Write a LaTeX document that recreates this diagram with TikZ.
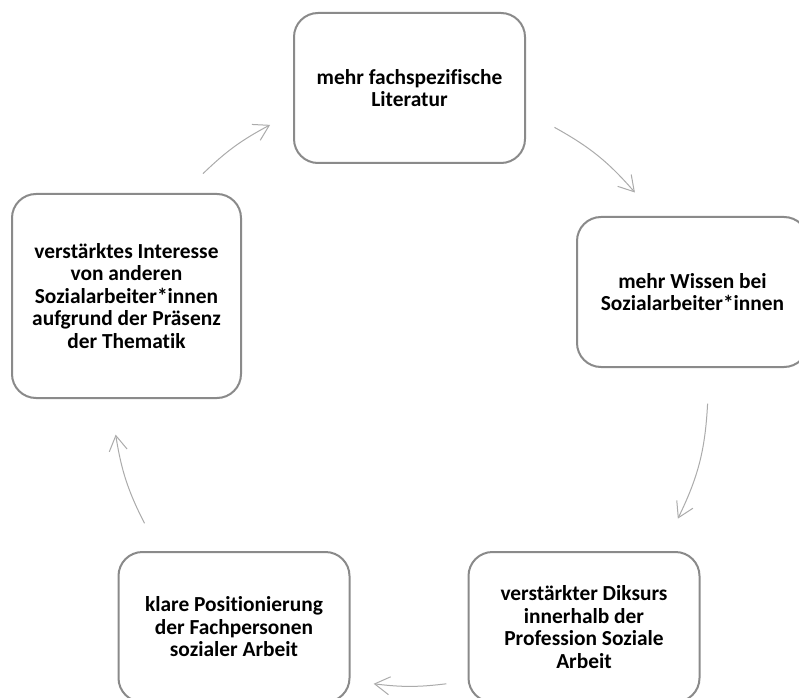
\documentclass[tikz,border=0pt]{standalone}
\usepackage{fontspec}
\setmainfont{Carlito}[Ligatures=NoCommon]
\usetikzlibrary{arrows.meta,calc}
\definecolor{boxgray}{HTML}{8A8A8A}
\definecolor{arrowgray}{HTML}{ABABAB}

\begin{document}
\begin{tikzpicture}[x=1pt, y=1pt,
    box/.style={rectangle, rounded corners=24pt, draw=boxgray, line width=2pt,
        minimum width=231pt, minimum height=150pt, inner sep=0pt, align=center,
        font=\fontsize{21.4}{22.5}\selectfont\bfseries},
    cyc/.style={draw=arrowgray, line width=1pt,
        -{Straight Barb[length=15pt, width=18pt, line width=1pt]}}]
    \useasboundingbox (0, 0) rectangle (799, 697);

    % Centre of the cycle
    \coordinate (c) at (410, 309);

    % Boxes
    \node[box] (lit) at (409.5, 609) {mehr fachspezifische\\Literatur};
    \node[box] (wissen) at (692.5, 405) {mehr Wissen bei\\Sozialarbeiter*innen};
    \node[box] (diskurs) at (584, 70) {verstärkter Diksurs\\innerhalb der\\Profession Soziale\\Arbeit};
    \node[box] (position) at (234, 70) {klare Positionierung\\der Fachpersonen\\sozialer Arbeit};
    \node[box, minimum width=229pt, minimum height=204pt] (interesse) at (126.5, 401)
        {verstärktes Interesse\\von anderen\\Sozialarbeiter*innen\\aufgrund der Präsenz\\der Thematik};

    % Arrow ends on the circle
    \coordinate (a1) at ($(c)+(134:298)$);
    \coordinate (b1) at ($(c)+(118:298)$);
    \coordinate (a2) at ($(c)+(61:298)$);
    \coordinate (b2) at ($(c)+(41:298)$);
    \coordinate (a3) at ($(c)+(-3:298)$);
    \coordinate (b3) at ($(c)+(-26:298)$);
    \coordinate (a4) at ($(c)+(-83:298)$);
    \coordinate (b4) at ($(c)+(-97:298)$);
    \coordinate (a5) at ($(c)+(207:298)$);
    \coordinate (b5) at ($(c)+(189:298)$);

    % Arrows
    \draw[cyc] (a1) to[bend left=8] (b1);
    \draw[cyc] (a2) to[bend left=10] (b2);
    \draw[cyc] (a3) to[bend left=11.5] (b3);
    \draw[cyc] (a4) to[bend left=7] (b4);
    \draw[cyc] (a5) to[bend left=9] (b5);
\end{tikzpicture}
\end{document}
